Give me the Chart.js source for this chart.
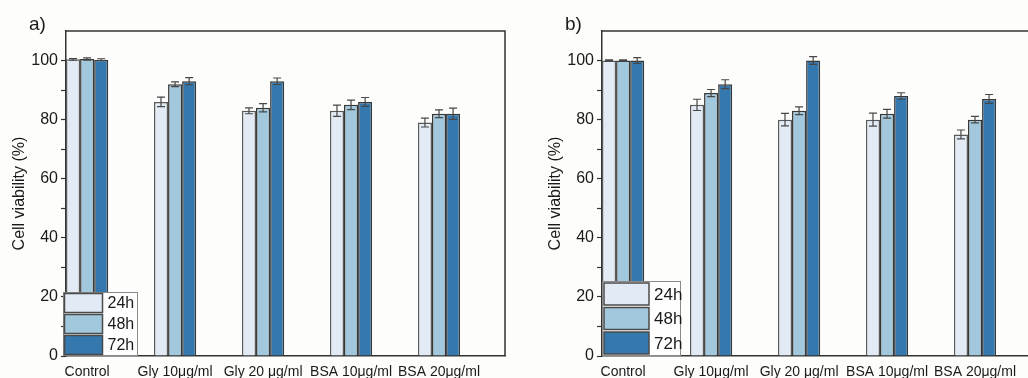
<!DOCTYPE html>
<html>
<head>
<meta charset="utf-8">
<script src="https://cdn.jsdelivr.net/npm/chart.js@4/dist/chart.umd.min.js"></script>
<style>
  html, body { margin: 0; padding: 0; background: #fdfdfb; overflow: hidden; width: 1028px; height: 378px; }
  canvas { position: absolute; top: 0; }
  #chartA { left: 0; }
  #chartB { left: 536px; }
</style>
</head>
<body>
<canvas id="chartA" width="520" height="378"></canvas>
<canvas id="chartB" width="520" height="378"></canvas>
<script>
// categories and series
const categories = ['Control', 'Gly 10μg/ml', 'Gly 20 μg/ml', 'BSA 10μg/ml', 'BSA 20μg/ml'];
const seriesNames = ['24h', '48h', '72h'];
const seriesColors = ['#e2ebf5', '#a1c8dc', '#3578ae'];
const yLabelTicks = [0, 20, 40, 60, 80, 100];

// panel a) values and errors (%)
const a24 = [100.4, 86, 83, 83, 79];
const a48 = [100.5, 92, 84, 85, 82];
const a72 = [100.3, 93, 93, 86, 82];
const a24Err = [0.3, 1.6, 1.0, 1.9, 1.5];
const a48Err = [0.4, 0.8, 1.4, 1.6, 1.3];
const a72Err = [0.3, 1.2, 1.1, 1.5, 1.9];

// panel b) values and errors (%)
const b24 = [100, 85, 80, 80, 75];
const b48 = [100, 89, 83, 82, 80];
const b72 = [100, 92, 100, 88, 87];
const b24Err = [0.2, 1.9, 2.1, 2.2, 1.5];
const b48Err = [0.2, 1.2, 1.3, 1.5, 1.1];
const b72Err = [1.0, 1.5, 1.3, 1.1, 1.5];

// error bars drawn from each dataset's errors array
const errorBars = {
  id: 'errorBars',
  afterDatasetsDraw(chart) {
    const ctx = chart.ctx;
    const yScale = chart.scales.y;
    ctx.save();
    ctx.strokeStyle = '#474747';
    ctx.lineWidth = 1.2;
    chart.data.datasets.forEach((ds, i) => {
      const meta = chart.getDatasetMeta(i);
      meta.data.forEach((bar, j) => {
        const v = ds.data[j].y, e = ds.errors[j];
        const y1 = yScale.getPixelForValue(v + e);
        const y2 = yScale.getPixelForValue(v - e);
        ctx.beginPath();
        ctx.moveTo(bar.x, y1); ctx.lineTo(bar.x, y2);
        ctx.moveTo(bar.x - 4, y1); ctx.lineTo(bar.x + 4, y1);
        ctx.moveTo(bar.x - 4, y2); ctx.lineTo(bar.x + 4, y2);
        ctx.stroke();
      });
    });
    ctx.restore();
  }
};

// top/right frame, panel letter and boxed legend
const panelDecor = {
  id: 'panelDecor',
  afterDraw(chart, args, opts) {
    const ctx = chart.ctx;
    const {left, right, top, bottom} = chart.chartArea;
    ctx.save();
    ctx.strokeStyle = '#333';
    ctx.lineWidth = 1.5;
    ctx.beginPath();
    ctx.moveTo(left, top); ctx.lineTo(right, top); ctx.lineTo(right, bottom);
    ctx.stroke();

    ctx.fillStyle = '#1a1a1a';
    ctx.font = '19px "Liberation Sans", Arial, sans-serif';
    ctx.textBaseline = 'alphabetic';
    ctx.fillText(opts.letter, left - 37, top - 1);

    // legend
    const lg = opts.legend;
    const boxH = 3 * lg.swatchH + 2 * lg.gap + 2 * lg.pad;
    const bx = left + lg.dx, by = bottom - boxH;
    ctx.fillStyle = '#fefefe';
    ctx.fillRect(bx, by, lg.boxW, boxH);
    ctx.strokeStyle = '#8a8a8a';
    ctx.lineWidth = 1;
    ctx.strokeRect(bx + 0.5, by + 0.5, lg.boxW - 1, boxH - 1);
    ctx.font = lg.font + 'px "Liberation Sans", Arial, sans-serif';
    ctx.textBaseline = 'middle';
    chart.data.datasets.forEach((ds, i) => {
      const sy = by + lg.pad + i * (lg.swatchH + lg.gap);
      ctx.fillStyle = ds.backgroundColor;
      ctx.fillRect(bx + lg.pad, sy, lg.swatchW, lg.swatchH);
      ctx.strokeStyle = '#4a4a4a';
      ctx.lineWidth = 1.5;
      ctx.strokeRect(bx + lg.pad, sy, lg.swatchW, lg.swatchH);
      ctx.fillStyle = '#1a1a1a';
      ctx.fillText(ds.label, bx + lg.pad + lg.swatchW + 5, sy + lg.swatchH / 2 + 1);
    });
    ctx.restore();
  }
};

function makeChart(id, letter, values, errors, legendOpts) {
  const datasets = seriesNames.map((name, s) => ({
    label: name,
    data: values[s].map((v, i) => ({x: i, y: v})),
    errors: errors[s],
    backgroundColor: seriesColors[s],
    borderColor: s === 0 ? '#5a5a5a' : '#383838',
    borderWidth: 1.5,
    barPercentage: 1,
    categoryPercentage: 0.48
  }));
  return new Chart(document.getElementById(id), {
    type: 'bar',
    data: { datasets },
    options: {
      responsive: false,
      animation: false,
      events: [],
      layout: { padding: { top: 31, right: 15, left: 0, bottom: 0 } },
      plugins: {
        legend: { display: false },
        tooltip: { enabled: false },
        panelDecor: { letter: letter, legend: legendOpts }
      },
      scales: {
        x: {
          type: 'linear',
          offset: false,
          min: -0.24,
          max: 4.75,
          afterFit: s => { s.height = 22; },
          afterBuildTicks: s => { s.ticks = categories.map((c, i) => ({ value: i })); },
          grid: { display: false, offset: false, tickLength: 0 },
          border: { display: true, color: '#333', width: 1.5 },
          ticks: {
            autoSkip: false,
            maxRotation: 0,
            padding: 8,
            color: '#1a1a1a',
            font: { family: '"Liberation Sans", Arial, sans-serif', size: 14 },
            callback: v => categories[v]
          }
        },
        y: {
          min: 0,
          max: 110,
          afterFit: s => { s.width = 66; },
          grid: {
            drawOnChartArea: false,
            tickLength: 5,
            tickWidth: 1.2,
            tickColor: c => c.tick && c.tick.value > 100 ? 'rgba(0,0,0,0)' : '#333'
          },
          border: { display: true, color: '#333', width: 1.5 },
          ticks: {
            stepSize: 10,
            padding: 3,
            color: '#1a1a1a',
            font: { family: '"Liberation Sans", Arial, sans-serif', size: 16 },
            callback: v => yLabelTicks.includes(v) ? v : ''
          },
          title: {
            display: true,
            text: 'Cell viability (%)',
            color: '#1a1a1a',
            padding: { top: 10, bottom: 0 },
            font: { family: '"Liberation Sans", Arial, sans-serif', size: 16 }
          }
        }
      }
    },
    plugins: [errorBars, panelDecor]
  });
}

makeChart('chartA', 'a)', [a24, a48, a72], [a24Err, a48Err, a72Err],
  { dx: -3, boxW: 75, swatchW: 38, swatchH: 19, gap: 2, pad: 1.5, font: 16 });
makeChart('chartB', 'b)', [b24, b48, b72], [b24Err, b48Err, b72Err],
  { dx: 0, boxW: 79, swatchW: 45, swatchH: 22, gap: 2.5, pad: 2, font: 17 });
</script>
</body>
</html>
